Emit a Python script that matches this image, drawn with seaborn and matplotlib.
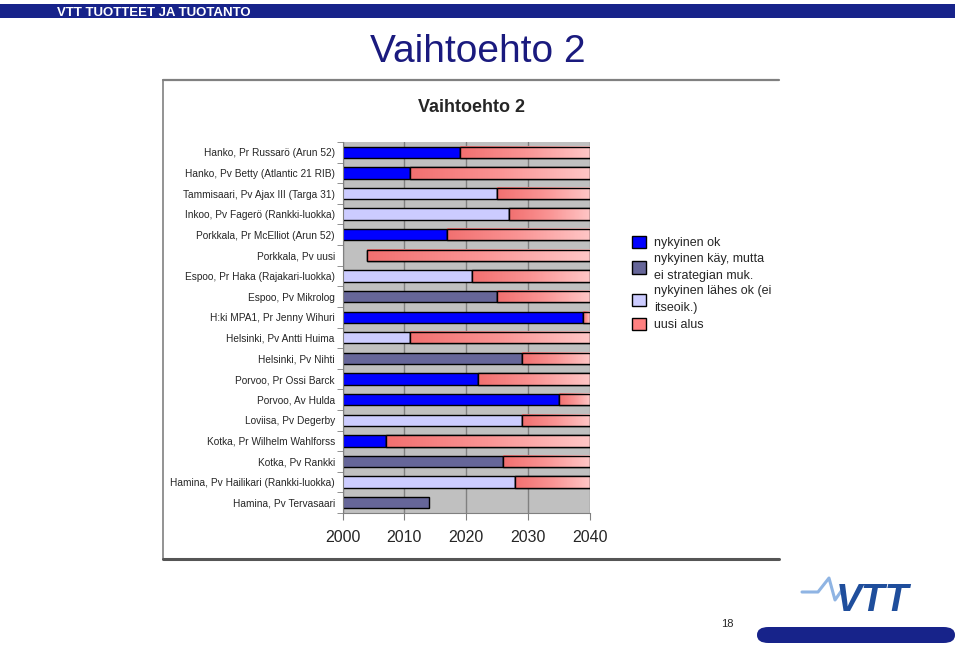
import numpy as np
import pandas as pd
import matplotlib
matplotlib.use("Agg")
import matplotlib.pyplot as plt
import seaborn as sns
from matplotlib.patches import Patch, FancyBboxPatch, Rectangle
from matplotlib.lines import Line2D
from matplotlib.colors import LinearSegmentedColormap

# ---------------- data ----------------
sites = [
    "Hanko, Pr Russarö (Arun 52)",
    "Hanko, Pv Betty (Atlantic 21 RIB)",
    "Tammisaari, Pv Ajax III (Targa 31)",
    "Inkoo, Pv Fagerö (Rankki-luokka)",
    "Porkkala, Pr McElliot (Arun 52)",
    "Porkkala, Pv uusi",
    "Espoo, Pr Haka (Rajakari-luokka)",
    "Espoo, Pv Mikrolog",
    "H:ki MPA1, Pr Jenny Wihuri",
    "Helsinki, Pv Antti Huima",
    "Helsinki, Pv Nihti",
    "Porvoo, Pr Ossi Barck",
    "Porvoo, Av Hulda",
    "Loviisa, Pv Degerby",
    "Kotka, Pr Wilhelm Wahlforss",
    "Kotka, Pv Rankki",
    "Hamina, Pv Hailikari (Rankki-luokka)",
    "Hamina, Pv Tervasaari",
]
existing_end = [2019, 2011, 2025, 2027, 2017, None, 2021, 2025, 2039, 2011,
                2029, 2022, 2035, 2029, 2007, 2026, 2028, 2014]
status = ["ok", "ok", "lahes", "lahes", "ok", None, "lahes", "kay", "ok", "lahes",
          "kay", "ok", "ok", "lahes", "ok", "kay", "lahes", "kay"]
new_start = [2019, 2011, 2025, 2027, 2017, 2004, 2021, 2025, 2039, 2011,
             2029, 2022, 2035, 2029, 2007, 2026, 2028, None]
horizon = 2040
year_ticks = [2000, 2010, 2020, 2030, 2040]

status_keys = ["ok", "kay", "lahes", "uusi"]
status_labels = ["nykyinen ok", "nykyinen käy, mutta\nei strategian muk.",
                 "nykyinen lähes ok (ei\nitseoik.)", "uusi alus"]
status_colors = ["#0000FF", "#666699", "#CCCCFF", "#FF8080"]

# ---------------- figure ----------------
sns.set_style("white")
plt.rcParams["font.family"] = ["Liberation Sans", "DejaVu Sans"]

W, H = 960, 645
fig = plt.figure(figsize=(W / 100, H / 100), dpi=100)


def fx(x):
    return x / W


def fy(y):
    return 1 - y / H


# header band
fig.add_artist(Rectangle((0, fy(18)), fx(955), fy(4) - fy(18), transform=fig.transFigure,
                         facecolor="#17238a", edgecolor="none"))
fig.text(fx(57), fy(16), "VTT TUOTTEET JA TUOTANTO", color="white", fontsize=9.5,
         fontweight="bold", va="baseline", ha="left")

# slide title
fig.text(fx(478), fy(52), "Vaihtoehto 2", color="#1a1a7e", fontsize=28, ha="center", va="center")

# chart frame
fig.add_artist(Line2D([fx(163), fx(779)], [fy(80), fy(80)], transform=fig.transFigure,
                      color="#808080", lw=1.6))
fig.add_artist(Line2D([fx(163), fx(163)], [fy(80), fy(559)], transform=fig.transFigure,
                      color="#808080", lw=1.2))
fig.add_artist(Line2D([fx(163), fx(779)], [fy(559), fy(559)], transform=fig.transFigure,
                      color="#555555", lw=2.2))

fig.text(fx(471), fy(108), "Vaihtoehto 2", fontsize=13, fontweight="bold", ha="center", va="center")

# axes
ax = fig.add_axes([fx(342.5), fy(513), fx(247), (513 - 142) / H])
ax.set_facecolor("#C0C0C0")

df = pd.DataFrame({"site": sites, "end": existing_end, "status": status}).dropna()
palette = dict(zip(status_keys, status_colors))
sns.barplot(data=df, x="end", y="site", hue="status", order=sites,
            hue_order=status_keys[:3], palette=palette, dodge=False, width=0.55,
            edgecolor="black", linewidth=1, orient="h", legend=False, errorbar=None,
            ax=ax, zorder=2, saturation=1)

idx = [i for i, s in enumerate(new_start) if s is not None]
lefts = [new_start[i] for i in idx]
widths = [horizon - new_start[i] for i in idx]
red = ax.barh(idx, widths, left=lefts, height=0.55, color=status_colors[3],
              edgecolor="black", linewidth=1, zorder=2)
cmap = LinearSegmentedColormap.from_list("redgrad", ["#F27070", "#FA9494", "#FFC6C6"])
grad = np.linspace(0, 1, 256)[None, :]
for p in red.patches:
    x0, y0, w, h = p.get_x(), p.get_y(), p.get_width(), p.get_height()
    ax.imshow(grad, cmap=cmap, extent=(x0, x0 + w, y0 + h, y0), aspect="auto",
              interpolation="bilinear", zorder=3)
ax.barh(idx, widths, left=lefts, height=0.55, fill=False, edgecolor="black",
        linewidth=1, zorder=4)

ax.set_xlim(year_ticks[0], year_ticks[-1])
ax.set_ylim(len(sites) - 0.5, -0.5)
ax.set_axisbelow(True)
ax.xaxis.grid(True, color="#808080", lw=1)
ax.yaxis.grid(False)

ax.set_xticks(year_ticks)
ax.set_xticklabels([str(t) for t in year_ticks], fontsize=11.5)
ax.tick_params(axis="x", length=5, color="#808080", pad=7, bottom=True)
ax.set_yticks(range(len(sites)))
ax.set_yticklabels(sites, fontsize=7.3)
ax.tick_params(axis="y", which="major", length=0, pad=5.5)
ax.set_yticks(np.arange(-0.5, len(sites)), minor=True)
ax.tick_params(axis="y", which="minor", length=4, color="#808080", left=True)
ax.set_xlabel("")
ax.set_ylabel("")
for side in ["top", "right"]:
    ax.spines[side].set_visible(False)
for side in ["left", "bottom"]:
    ax.spines[side].set_color("#808080")
    ax.spines[side].set_linewidth(0.8)

# legend
handles = [Patch(facecolor=c, edgecolor="black", linewidth=1) for c in status_colors]
leg = fig.legend(handles, status_labels, loc="upper left", bbox_to_anchor=(fx(632), fy(236)),
                 frameon=False, fontsize=9, handlelength=1.15, handleheight=1.15,
                 handletextpad=0.65, labelspacing=0.3, borderpad=0, borderaxespad=0)
for t in leg.get_texts():
    t.set_linespacing(1.5)

# footer: page number, logo, band
fig.text(fx(727), fy(624), "18", fontsize=8, ha="center", va="center")
fig.add_artist(FancyBboxPatch((fx(757), fy(643)), fx(955 - 757), fy(627) - fy(643),
                              boxstyle="round,pad=0,rounding_size=0.012",
                              transform=fig.transFigure, facecolor="#17238a",
                              edgecolor="none"))
fig.add_artist(Line2D([fx(802), fx(818), fx(829), fx(835), fx(842)],
                      [fy(592), fy(592), fy(578), fy(600), fy(590)],
                      transform=fig.transFigure, color="#8fb4e3", lw=2.2))
fig.text(fx(872), fy(601), "VTT", fontsize=28, fontweight="heavy", fontstyle="italic",
         color="#1f4e9c", ha="center", va="center")

fig.savefig("out.png", dpi=100)
